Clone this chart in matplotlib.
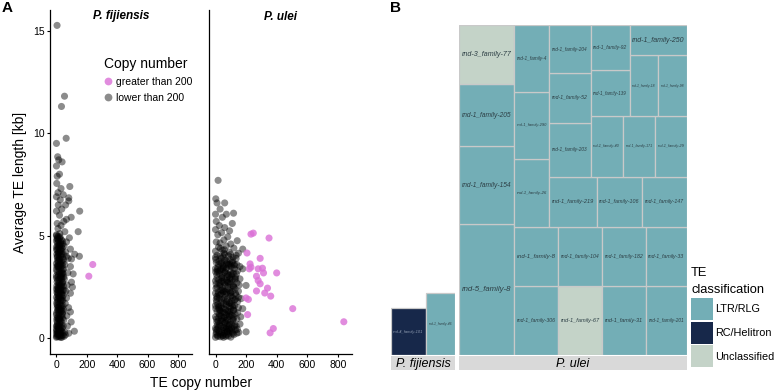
#!/usr/bin/env python3

import matplotlib
matplotlib.use('Agg')
import matplotlib.pyplot as plt
from matplotlib.patches import Rectangle, Patch
from matplotlib.lines import Line2D

plt.rcParams['font.family'] = ['Liberation Sans', 'DejaVu Sans']

# ---------------- Panel A data (TE copy number vs average length [kb]) ----------------
fij_low_x = [4, 53, 33, 64, 0, 8, 15, 37, 0, 5, 20, 88, 2, 30, 81, 10, 45, 0, 25, 153,
             81, 60, 12, 35, 0, 97, 66, 20, 48, 5, 143, 30, 10, 55, 0, 22,
             0, 8, 18, 30, 42, 3, 12, 24, 36, 0, 15, 28, 45, 6, 20, 33, 2, 12, 40, 25,
             0, 18, 30, 8, 48, 14, 36, 3, 22, 10, 42, 28, 0, 16, 34, 6, 24, 50, 12, 2,
             30, 20, 40, 8, 0, 26, 14, 44, 4, 32, 18, 10, 38, 0, 24, 6, 46, 16, 30, 2,
             12, 36, 22, 0, 8, 28, 16, 40, 4, 20, 10, 0, 5, 10, 15, 20, 25, 30, 35, 5,
             2, 22, 10, 35, 50, 55, 48, 58, 52, 55, 60, 50,
             66, 92, 151, 99, 92, 110, 99, 105, 92, 66, 92, 97, 118, 81, 59, 75, 70, 80,
             72, 65, 85, 78, 120, 62, 68,
             1, 6, 14, 26, 38, 4, 16, 34, 44, 2, 18, 26, 38, 8, 46, 14, 34, 0, 22, 36,
             8, 28, 42, 14, 34, 2, 18, 26, 44, 6, 14, 32, 0, 24, 38, 10, 20, 30, 4, 16,
             28, 12, 40, 22, 32, 0, 18, 6, 36, 48, 9, 27, 45, 3, 21, 33, 11, 39, 17, 29,
             0, 5, 12, 20, 28, 36, 44, 3, 11, 19, 27, 35, 43, 1, 9, 17, 25, 33, 41, 7,
             15, 23, 31, 39, 47, 2, 10, 18, 26, 34, 42, 6, 14, 22, 30, 38, 4, 12, 20, 28,
             0, 8, 16, 24, 32, 40, 0, 13, 21, 29]
fij_low_y = [15.25, 11.8, 11.3, 9.75, 9.5, 8.85, 8.7, 8.6, 8.4, 7.9, 8.0, 7.4, 7.55, 7.3, 6.85,
             7.1, 7.0, 6.9, 6.75, 6.2, 6.7, 6.5, 6.5, 6.3, 6.2, 5.9, 5.8, 6.0, 5.7, 5.6, 5.2,
             5.5, 5.35, 5.2, 5.05, 5.1,
             0.05, 0.1, 0.08, 0.12, 0.15, 0.25, 0.3, 0.28, 0.35, 0.45, 0.5, 0.55, 0.6, 0.7,
             0.75, 0.8, 0.9, 0.95, 1.0, 1.05, 1.15, 1.2, 1.3, 1.35, 1.4, 1.5, 1.55, 1.65,
             1.7, 1.8, 1.85, 1.9, 2.0, 2.05, 2.15, 2.2, 2.3, 2.35, 2.45, 2.55, 2.6, 2.7,
             2.75, 2.85, 2.95, 3.0, 3.1, 3.15, 3.25, 3.3, 3.4, 3.5, 3.55, 3.65, 3.7, 3.8,
             3.85, 3.9, 4.0, 4.1, 4.2, 4.25, 4.35, 4.45, 4.5, 4.6, 4.7, 4.75, 4.85, 4.9,
             4.97, 0.6, 1.5, 2.5, 3.5, 4.5, 0.4, 1.6, 2.9, 3.95,
             0.2, 0.15, 0.2, 0.05, 0.1, 0.3, 0.9, 1.7, 2.9, 3.6, 4.2, 4.5,
             4.7, 4.35, 4.0, 3.87, 3.5, 3.14, 2.74, 2.5, 2.2, 1.97, 1.29, 0.8, 0.35, 0.25,
             0.17, 3.2, 2.6, 1.5, 0.6, 4.0, 4.9, 3.9, 4.1, 2.3, 1.1,
             0.1, 0.35, 0.6, 0.85, 0.5, 1.0, 1.25, 1.1, 1.3, 1.75, 1.55, 2.2, 2.0, 2.35,
             2.55, 2.7, 2.5, 3.05, 3.2, 3.0, 3.55, 3.45, 3.35, 3.8, 3.75, 4.3, 4.05, 4.25,
             4.1, 4.65, 4.4, 4.8, 5.0, 4.95, 4.4, 1.05, 0.25, 2.35, 2.75, 3.25, 0.05, 1.95,
             3.95, 1.4, 0.65, 3.35, 2.9, 4.0, 1.85, 3.0, 0.55, 1.85, 2.1, 2.25, 3.85, 4.5,
             4.8, 0.3, 0.9, 3.6,
             0.35, 0.8, 1.4, 1.95, 2.45, 3.15, 3.7, 4.35, 4.15, 3.55, 2.95, 2.2, 1.6, 1.25,
             2.1, 2.6, 3.65, 4.1, 4.6, 4.9, 0.45, 0.95, 1.45, 2.7, 3.4, 3.5, 3.0, 1.0, 0.35,
             1.35, 2.35, 1.9, 2.2, 2.5, 3.1, 3.2, 0.6, 3.7, 4.2, 4.7, 2.4, 1.6, 4.55, 2.05,
             2.65, 1.2, 4.75, 2.35, 0.6, 4.35]
fij_high_x = [239, 213]
fij_high_y = [3.6, 3.03]

ulei_low_x = [17, 2, 10, 60, 0, 71, 118, 30, 45, 5, 92, 25, 60, 0, 110, 40, 15, 80, 142, 55,
              5, 30, 100, 178, 70, 120, 20, 45, 0, 90, 150, 135, 60, 10,
              0, 15, 32, 50, 68, 85, 100, 120, 152, 200, 140,
              5, 22, 40, 58, 75, 95, 110, 130,
              0, 18, 35, 52, 70, 88, 105, 125, 160,
              8, 28, 45, 62, 80, 98, 115, 140,
              0, 20, 38, 55, 72, 90, 108, 128, 165,
              10, 30, 48, 65, 82, 100, 118, 178, 150,
              0, 15, 35, 52, 70, 88, 105, 125, 145,
              5, 25, 42, 60, 78, 95, 112, 168, 135,
              0, 18, 36, 55, 72, 90, 108, 128, 150,
              10, 28, 45, 62, 80, 98, 115, 200, 140,
              0, 20, 38, 56, 74, 92, 110, 130, 160,
              8, 25, 44, 62, 80, 98, 118, 145, 178,
              0, 15, 34, 52, 70, 88, 105, 125, 160,
              5, 22, 40, 58, 76, 95, 112, 135,
              0, 30, 50, 85, 115,
              3, 12, 26, 44, 60, 78, 92, 6, 24, 40, 58, 76, 94, 2, 20, 36, 54, 72, 90, 8,
              26, 44, 62, 80, 98, 4, 22, 40, 58, 76, 94, 12, 30, 48, 66, 84, 2, 20, 38, 56,
              14, 34, 52, 70, 86, 108, 112, 120, 104, 124, 130, 115, 135, 145, 150, 155,
              130, 110, 140, 100,
              4, 17, 27, 41, 53, 63, 77, 89, 99, 113, 123, 7, 19, 31, 43, 53, 67, 79, 91,
              101, 115, 125, 9, 21, 33, 45, 57, 69, 81, 93, 103, 117, 127, 11, 23, 35, 47,
              59, 71, 83, 95, 107, 119, 3, 13, 25, 37, 49, 61, 73, 87, 97, 109, 121, 1, 11,
              23, 37, 47, 61, 71, 85, 95, 107, 119, 131, 137, 143, 58, 32]
ulei_low_y = [7.7, 6.8, 6.6, 6.6, 6.05, 6.05, 6.1, 6.3, 5.9, 5.7, 5.24, 5.5, 5.4, 5.3, 5.6,
              5.15, 5.05, 4.95, 4.76, 4.8, 4.7, 4.65, 4.6, 4.35, 4.5, 4.4, 4.45, 4.3, 4.25,
              4.2, 4.15, 4.05, 4.1, 4.05,
              0.05, 0.1, 0.08, 0.15, 0.1, 0.12, 0.06, 0.18, 0.29, 0.32, 0.25,
              0.3, 0.35, 0.28, 0.4, 0.33, 0.38, 0.3, 0.42,
              0.5, 0.55, 0.6, 0.52, 0.58, 0.62, 0.5, 0.65, 0.7,
              0.8, 0.75, 0.85, 0.78, 0.9, 0.82, 0.88, 0.95,
              1.05, 1.0, 1.1, 1.02, 1.15, 1.08, 1.12, 1.2, 1.05,
              1.3, 1.35, 1.28, 1.4, 1.32, 1.45, 1.38, 1.45, 1.5,
              1.6, 1.65, 1.58, 1.7, 1.62, 1.75, 1.68, 1.6, 1.8,
              1.9, 1.95, 1.88, 2.0, 1.92, 2.05, 1.98, 1.94, 2.1,
              2.2, 2.25, 2.18, 2.3, 2.22, 2.35, 2.28, 2.4, 2.3,
              2.5, 2.55, 2.48, 2.6, 2.52, 2.65, 2.58, 2.58, 2.7,
              2.8, 2.85, 2.78, 2.9, 2.82, 2.95, 2.88, 3.0, 2.9,
              3.1, 3.15, 3.08, 3.2, 3.12, 3.25, 3.18, 3.3, 3.39,
              3.4, 3.45, 3.38, 3.5, 3.42, 3.55, 3.48, 3.6, 3.5,
              3.7, 3.75, 3.68, 3.8, 3.72, 3.85, 3.78, 3.9,
              3.95, 4.0, 3.98, 4.02, 3.95,
              0.2, 0.45, 0.65, 0.4, 0.25, 0.7, 0.45, 0.95, 1.2, 0.95, 1.25, 1.0, 1.3, 1.45,
              1.5, 1.75, 1.45, 1.8, 1.55, 2.05, 2.1, 2.35, 2.15, 2.4, 2.2, 2.65, 2.7, 2.95,
              2.7, 3.0, 2.75, 3.25, 3.3, 3.55, 3.3, 3.6, 3.85, 3.6, 3.9, 4.15, 0.15, 0.2,
              0.05, 0.45, 0.25, 0.7, 1.6, 2.5, 3.1, 3.4, 1.9, 0.95, 0.6, 1.25, 2.0, 2.6,
              2.9, 3.7, 3.6, 4.1,
              0.42, 0.83, 1.12, 1.47, 1.93, 2.28, 2.74, 3.07, 3.52, 0.23, 0.57, 1.78, 2.16,
              2.63, 2.97, 3.44, 3.81, 0.33, 0.68, 1.14, 1.52, 1.87, 2.93, 3.27, 3.66, 0.12,
              0.53, 0.88, 1.34, 1.72, 2.07, 2.54, 2.86, 0.64, 1.43, 2.36, 3.38, 0.73, 1.66,
              2.71, 3.62, 0.37, 1.36, 2.44, 3.36, 0.28, 1.27, 2.27, 3.23, 0.17, 1.19, 2.24,
              3.17, 3.57, 3.24, 1.97, 1.58, 0.86, 2.78, 1.04, 3.63, 0.48, 2.89, 1.83, 1.03,
              2.19, 3.14, 0.44, 4.32, 4.38]
ulei_high_x = [232, 247, 350, 206, 292, 226, 232, 221, 279, 307, 314, 400, 268, 279, 292,
               340, 268, 322, 361, 200, 215, 505, 210, 839, 378, 357]
ulei_high_y = [5.08, 5.13, 4.89, 4.16, 3.9, 3.63, 3.47, 3.39, 3.39, 3.42, 3.19, 3.19, 3.03,
               2.82, 2.66, 2.45, 2.31, 2.21, 2.06, 1.97, 1.9, 1.45, 1.16, 0.81, 0.48, 0.27]

# ---------------- Panel B data (treemap of TE families) ----------------
ulei_families = ['rnd-5_family-8', 'rnd-1_family-154', 'rnd-1_family-205', 'rnd-3_family-77',
                 'rnd-1_family-306', 'rnd-1_family-67', 'rnd-1_family-31', 'rnd-1_family-201',
                 'rnd-1_family-8', 'rnd-1_family-104', 'rnd-1_family-182', 'rnd-1_family-33',
                 'rnd-1_family-26', 'rnd-1_family-290', 'rnd-1_family-4', 'rnd-1_family-219',
                 'rnd-1_family-106', 'rnd-1_family-147', 'rnd-1_family-203', 'rnd-1_family-52',
                 'rnd-1_family-204', 'rnd-1_family-40', 'rnd-1_family-171', 'rnd-1_family-29',
                 'rnd-1_family-139', 'rnd-1_family-92', 'rnd-1_family-18', 'rnd-1_family-98',
                 'rnd-1_family-250']
ulei_size = [720, 429, 341, 325, 308, 304, 303, 285, 264, 260, 259, 244, 243, 241, 238,
             237, 230, 226, 221, 205, 198, 197, 195, 194, 180, 176, 176, 175, 174]
ulei_class = ['LTR/RLG', 'LTR/RLG', 'LTR/RLG', 'Unclassified', 'LTR/RLG', 'Unclassified',
              'LTR/RLG', 'LTR/RLG', 'LTR/RLG', 'LTR/RLG', 'LTR/RLG', 'LTR/RLG', 'LTR/RLG',
              'LTR/RLG', 'LTR/RLG', 'LTR/RLG', 'LTR/RLG', 'LTR/RLG', 'LTR/RLG', 'LTR/RLG',
              'LTR/RLG', 'LTR/RLG', 'LTR/RLG', 'LTR/RLG', 'LTR/RLG', 'LTR/RLG', 'LTR/RLG',
              'LTR/RLG', 'LTR/RLG']

fij_families = ['rnd-4_family-101', 'rnd-1_family-46']
fij_size = [165, 180]
fij_height = [0.142, 0.188]   # fraction of panel height
fij_class = ['RC/Helitron', 'LTR/RLG']

class_colors = {'LTR/RLG': '#73AEB6', 'RC/Helitron': '#17284A', 'Unclassified': '#C4D3C8'}


def worst(row, side):
    s = sum(row)
    return max(side ** 2 * max(row) / s ** 2, s ** 2 / (side ** 2 * min(row)))


def squarify(values, x, y, w, h):
    """squarified treemap, starting bottom-left"""
    rects = []
    i = 0
    while i < len(values):
        vertical = w >= h
        side = h if vertical else w
        row = [values[i]]
        j = i + 1
        while j < len(values) and worst(row + [values[j]], side) <= worst(row, side):
            row.append(values[j])
            j += 1
        thick = sum(row) / side
        pos = 0
        for v in row:
            length = v / thick
            if vertical:
                rects.append((x, y + pos, thick, length))
            else:
                rects.append((x + pos, y, length, thick))
            pos += length
        if vertical:
            x += thick
            w -= thick
        else:
            y += thick
            h -= thick
        i = j
    return rects


W, H = 778, 391
fig = plt.figure(figsize=(W / 100, H / 100), dpi=100)


def px_axes(x0, y0, x1, y1):
    return fig.add_axes([x0 / W, 1 - y1 / H, (x1 - x0) / W, (y1 - y0) / H])


# ---------------- Panel A ----------------
gray = (0, 0, 0, 0.45)
pink = (0.855, 0.44, 0.84, 0.8)
axA = [px_axes(50, 10, 192, 354), px_axes(209, 10, 352, 354)]
titles = ['P. fijiensis', 'P. ulei']
lows = [(fij_low_x, fij_low_y), (ulei_low_x, ulei_low_y)]
highs = [(fij_high_x, fij_high_y), (ulei_high_x, ulei_high_y)]
for k, ax in enumerate(axA):
    ax.scatter(lows[k][0], lows[k][1], s=26, color=gray, edgecolors='none')
    ax.scatter(highs[k][0], highs[k][1], s=26, color=pink, edgecolors='none')
    ax.set_xlim(-42.5, 892.5)
    ax.set_ylim(-0.76, 16.0)
    ax.set_xticks([0, 200, 400, 600, 800])
    ax.set_yticks([0, 5, 10, 15])
    for s in ['top', 'right']:
        ax.spines[s].set_visible(False)
    for s in ['left', 'bottom']:
        ax.spines[s].set_linewidth(0.9)
    ax.tick_params(direction='out', length=2.5, width=0.8, labelsize=7.5, pad=1.5)
    ax.text(0.5, 1 - 6.5 / 344, titles[k], fontsize=8.5, fontweight='bold', style='italic',
            ha='center', va='center', transform=ax.transAxes)
    ax.patch.set_alpha(0)
axA[1].tick_params(axis='y', length=0, labelleft=False)
axA[0].set_ylabel('Average TE length [kb]', fontsize=10, labelpad=4)
fig.text(201 / W, 1 - 383 / H, 'TE copy number', fontsize=10, ha='center', va='center')

handles = [Line2D([], [], marker='o', ls='', markersize=5.6, markerfacecolor=pink,
                  markeredgecolor='none'),
           Line2D([], [], marker='o', ls='', markersize=5.6, markerfacecolor=gray,
                  markeredgecolor='none')]
axA[0].legend(handles, ['greater than 200', 'lower than 200'], title='Copy number',
              loc='upper left', bbox_to_anchor=(0.345, 0.878), frameon=False, borderpad=0,
              handlelength=0.8, handletextpad=0.3, labelspacing=0.55, fontsize=7.5,
              title_fontsize=10, alignment='left')

fig.text(2 / W, 1 - 1 / H, 'A', fontsize=11, fontweight='bold', va='top')
fig.text(390 / W, 1 - 1 / H, 'B', fontsize=11, fontweight='bold', va='top')

# ---------------- Panel B ----------------
top, bottom = 25, 355
u_left, u_right = 459, 687
ax_u = px_axes(u_left, top, u_right, bottom)
unit_px = u_right - u_left
total = sum(ulei_size)
order = sorted(range(len(ulei_size)), key=lambda i: -ulei_size[i])
rects = squarify([ulei_size[i] / total for i in order], 0, 0, 1, 1)

# P. fijiensis panel on the same area scale
fij_w = [fij_size[i] / total / fij_height[i] for i in range(len(fij_size))]
f_right = 455
f_left = f_right - sum(fij_w) * unit_px
ax_f = px_axes(f_left, top, f_right, bottom)

fig.canvas.draw()
renderer = fig.canvas.get_renderer()


def box_label(ax, x, y, w, h, name, color, xscale_px):
    t = ax.text(x + w / 2, y + h / 2, name, fontsize=10, style='italic', ha='center',
                va='center', color=color)
    bw = t.get_window_extent(renderer).width
    t.set_fontsize(min(7.5, 10 * (w * xscale_px - 5) / bw))


for (x, y, w, h), i in zip(rects, order):
    ax_u.add_patch(Rectangle((x, y), w, h, facecolor=class_colors[ulei_class[i]],
                             edgecolor='#C9C9C9', lw=0.9))
    box_label(ax_u, x, y, w, h, ulei_families[i], '#2d3f45', unit_px)
ax_u.set_xlim(0, 1)
ax_u.set_ylim(0, 1)
ax_u.axis('off')

xpos = 0
for i in range(len(fij_size)):
    c = class_colors[fij_class[i]]
    ax_f.add_patch(Rectangle((xpos, 0), fij_w[i], fij_height[i], facecolor=c,
                             edgecolor='#C9C9C9', lw=0.9))
    tc = '#8e9bb0' if fij_class[i] == 'RC/Helitron' else '#2d3f45'
    box_label(ax_f, xpos, 0, fij_w[i], fij_height[i], fij_families[i], tc, unit_px)
    xpos += fij_w[i]
ax_f.set_xlim(0, sum(fij_w))
ax_f.set_ylim(0, 1)
ax_f.axis('off')

# facet strips
for (x0, x1), lab in [((f_left, f_right), 'P. fijiensis'), ((u_left, u_right), 'P. ulei')]:
    sax = px_axes(x0, bottom + 1, x1, bottom + 15)
    sax.set_facecolor('#D9D9D9')
    sax.set_xticks([])
    sax.set_yticks([])
    for s in sax.spines.values():
        s.set_visible(False)
    sax.text(0.5, 0.45, lab, fontsize=9, style='italic', ha='center', va='center',
             transform=sax.transAxes)

leg_handles = [Patch(facecolor=class_colors[c], edgecolor='none')
               for c in ['LTR/RLG', 'RC/Helitron', 'Unclassified']]
legB = fig.legend(leg_handles, ['LTR/RLG', 'RC/Helitron', 'Unclassified'],
                  title='TE\nclassification', loc='upper left',
                  bbox_to_anchor=(691 / W, 1 - 267 / H), frameon=False, borderpad=0,
                  borderaxespad=0, handlelength=2.0, handleheight=2.75, handletextpad=0.25,
                  labelspacing=0.15, fontsize=7.8, title_fontsize=9.3, alignment='left')
legB.get_title().set_linespacing(1.6)

plt.savefig('out.png', dpi=100)
